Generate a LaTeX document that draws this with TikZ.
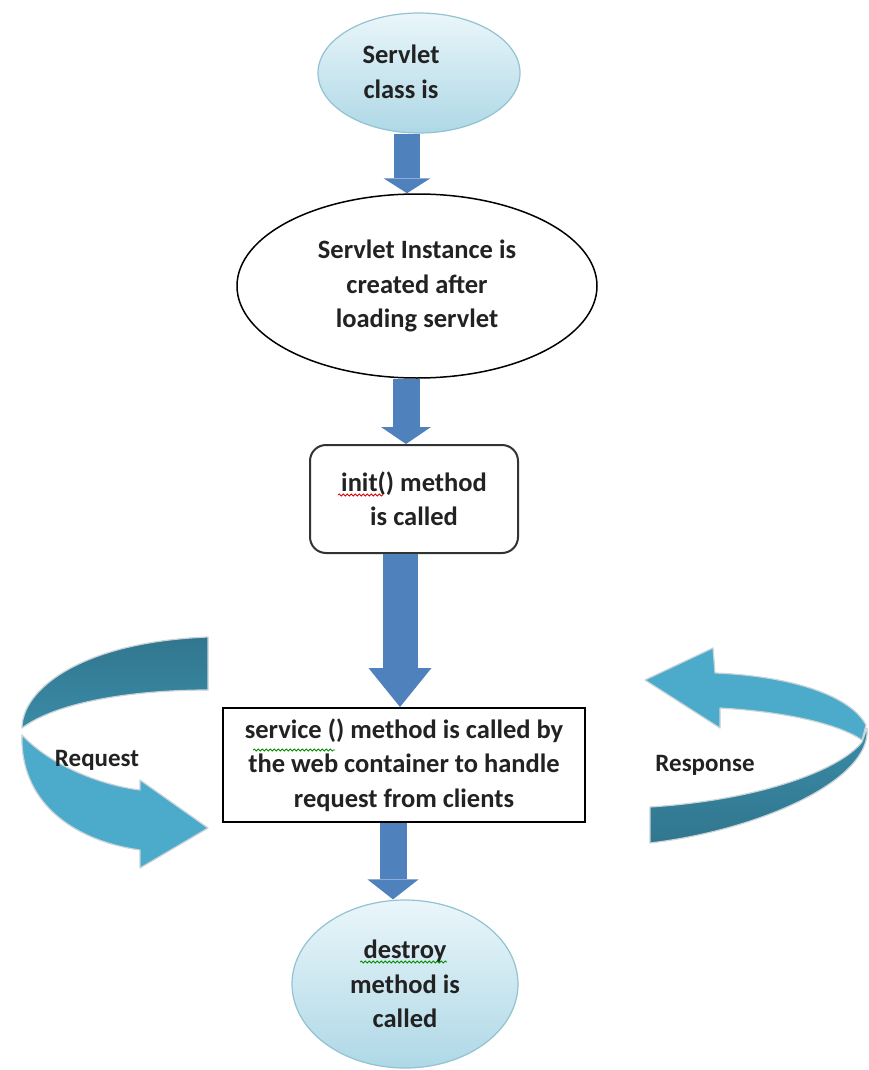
\documentclass[tikz,border=0pt]{standalone}
\usepackage{fontspec}
\setmainfont{Carlito}
\usetikzlibrary{shapes.geometric,arrows.meta,decorations.pathmorphing}
\definecolor{flowblue}{HTML}{4F81BD}
\definecolor{txtgray}{HTML}{222222}
\definecolor{elltop}{HTML}{EAF6FA}
\definecolor{ellbot}{HTML}{AED8E6}
\definecolor{ellline}{HTML}{93C2D2}
\definecolor{tealdark}{HTML}{3A8BA7}
\definecolor{teallight}{HTML}{4CAACA}
\definecolor{ribbonedge}{HTML}{C9D3D8}
\begin{document}
\begin{tikzpicture}[x=1pt,y=-1pt,
  txt/.style={font=\fontsize{26.5}{34.5}\selectfont\bfseries, text=txtgray, align=center},
  lbl/.style={font=\fontsize{25}{30}\selectfont\bfseries, text=txtgray},
  lightell/.style={ellipse, draw=ellline, line width=1.2pt, top color=elltop, bottom color=ellbot, inner sep=0pt},
  plainell/.style={ellipse, draw=black, line width=1.5pt, fill=white, inner sep=0pt},
  initbox/.style={rectangle, rounded corners=16pt, draw=black!80, line width=2pt, fill=white, inner sep=0pt},
  servbox/.style={rectangle, draw=black, line width=2pt, fill=white, inner sep=0pt},
  flow/.style={draw=flowblue, line width=#1},
  ribbon/.style={draw=ribbonedge, line width=1.2pt, line join=round},
  squig/.style={decorate, decoration={snake, amplitude=1pt, segment length=4pt}, line width=0.8pt}
]
\useasboundingbox (0,0) rectangle (869,1070);
\fill[white] (0,0) rectangle (869,1070);

% nodes
\node[lightell, minimum width=202pt, minimum height=120pt] (cls) at (419,73) {};
\node[txt] (clstext) at (401,72) {Servlet\\class is};
\node[plainell, minimum width=360pt, minimum height=184pt, txt] (inst) at (417,286) {Servlet Instance is\\created after\\loading servlet};
\node[initbox, minimum width=208pt, minimum height=108pt, txt] (init) at (414,499) {init() method\\is called};
\node[servbox, minimum width=362pt, minimum height=114pt, txt] (serv) at (404,765) {service () method is called by\\the web container to handle\\request from clients};
\node[lightell, minimum width=226pt, minimum height=168pt, txt] (dest) at (405,984) {destroy\\method is\\called};

% spelling squiggles
\draw[squig, red!85!black] (338,495) -- (383,495);
\draw[squig, green!55!black] (253,750) -- (335,750);
\draw[squig, green!55!black] (360,962) -- (447,962);

% column coordinates for the block arrows
\coordinate (c1) at (407,0);
\coordinate (c2) at (406,0);
\coordinate (c3) at (400,0);
\coordinate (c4) at (393,0);

\draw[flow=26pt, -{Triangle[width=47pt,length=15pt,line width=0pt]}] (cls.south -| c1) -- (inst.north -| c1);
\draw[flow=27pt, -{Triangle[width=50pt,length=17pt,line width=0pt]}] (inst.south -| c2) -- (init.north -| c2);
\draw[flow=35pt, -{Triangle[width=63pt,length=39pt,line width=0pt]}] (init.south -| c3) -- (serv.north -| c3);
\draw[flow=27pt, -{Triangle[width=51pt,length=20pt,line width=0pt]}] (serv.south -| c4) -- (dest.north -| c4);

% Request ribbon arrow (left)
\path[ribbon, top color=tealdark!85!black, bottom color=tealdark]
  (208,637) -- (208,690) .. controls (140,690) and (60,700) .. (22,728)
  .. controls (22,690) and (80,642) .. (208,637) -- cycle;
\path[ribbon, fill=teallight]
  (22,735) .. controls (50,765) and (100,785) .. (140,790) -- (140,780) -- (208,828)
  -- (140,868) -- (140,850) .. controls (70,840) and (20,800) .. (22,735) -- cycle;
\node[lbl] (req) at (97,760) {Request};

% Response ribbon arrow (right)
\path[ribbon, fill=teallight]
  (645,680) -- (713,648) -- (715,673) .. controls (790,676) and (850,695) .. (866,725)
  -- (862,740) .. controls (840,725) and (790,712) .. (720,708) -- (720,728) -- cycle;
\path[ribbon, top color=tealdark, bottom color=tealdark!85!black]
  (867,728) .. controls (872,780) and (760,830) .. (650,843) -- (650,807)
  .. controls (760,800) and (840,770) .. (862,742) -- cycle;
\node[lbl] (resp) at (705,765) {Response};
\end{tikzpicture}
\end{document}
